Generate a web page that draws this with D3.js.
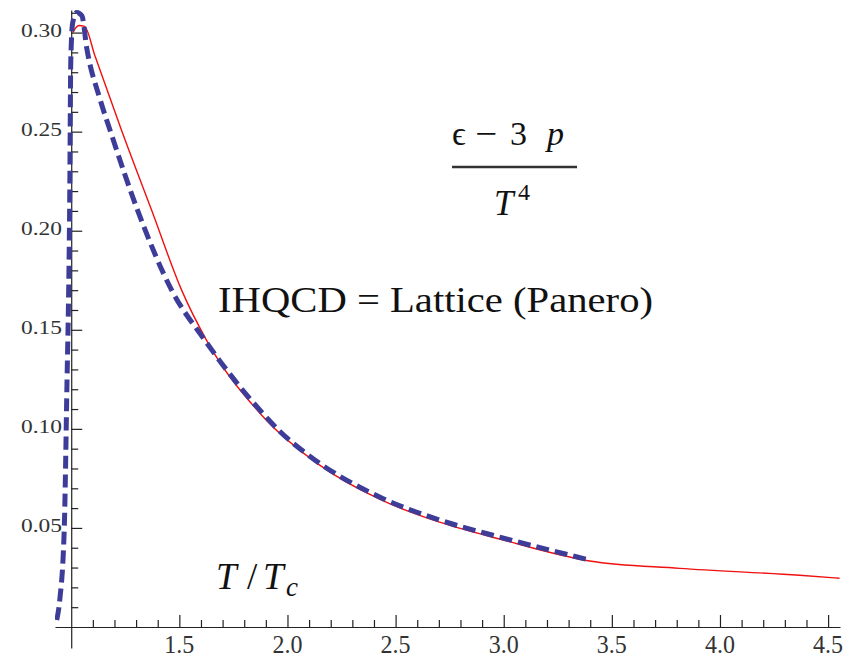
<!DOCTYPE html>
<html>
<head>
<meta charset="utf-8">
<script src="https://cdn.jsdelivr.net/npm/d3@7"></script>
<style>
  html, body { margin: 0; padding: 0; background: #fff; }
  svg { display: block; }
  text { font-family: "Liberation Serif", "Times New Roman", Times, serif; }
</style>
</head>
<body>
<svg id="chart" width="855" height="660"></svg>
<script>
// Trace anomaly (e - 3p)/T^4 versus T/Tc
const xMajorTicks = [1.5, 2.0, 2.5, 3.0, 3.5, 4.0, 4.5];
const xMajorLabels = ["1.5", "2.0", "2.5", "3.0", "3.5", "4.0", "4.5"];
const yMajorTicks = [0.05, 0.10, 0.15, 0.20, 0.25, 0.30];
const yMajorLabels = ["0.05", "0.10", "0.15", "0.20", "0.25", "0.30"];

// IHQCD model curve (dashed)
const ihqcdT = [0.933, 0.947, 0.968, 0.979, 0.993, 0.998, 1.007, 1.025, 1.049, 1.072,
                1.132, 1.183, 1.307, 1.465, 1.618, 1.885, 1.964, 2.103, 2.426, 2.703,
                2.981, 3.397];
const ihqcdValue = [0.0035, 0.0136, 0.0504, 0.1145, 0.2153, 0.2859, 0.3051, 0.3101, 0.3086, 0.2920,
                    0.2668, 0.2496, 0.2103, 0.1699, 0.1447, 0.1079, 0.0988, 0.0862, 0.0656, 0.0540,
                    0.0454, 0.0338];

// Lattice fit (Panero), solid
const latticeT = [1.007, 1.035, 1.062, 1.109, 1.233, 1.372, 1.511, 1.626, 1.881, 2.149,
                  2.426, 2.703, 2.981, 3.397, 3.813, 4.368, 4.553];
const latticeValue = [0.3000, 0.3036, 0.3031, 0.2885, 0.2506, 0.2103, 0.1699, 0.1447, 0.1069, 0.0817,
                      0.0645, 0.0529, 0.0444, 0.0333, 0.0296, 0.0261, 0.0246];

const svg = d3.select("#chart");

const x = d3.scaleLinear().domain([0.925, 4.555]).range([55, 840]);
const y = d3.scaleLinear().domain([-0.0106, 0.3114]).range([648, 10]);

const xMinor = d3.range(11, 46).map(d => d / 10).filter(v => !xMajorTicks.some(m => Math.abs(m - v) < 1e-9));
const yMinor = d3.range(1, 32).map(d => d / 100).filter(v => !yMajorTicks.some(m => Math.abs(m - v) < 1e-9));

const axisColor = "#222";

// x axis through y = 0, ticks pointing up
svg.append("g").attr("transform", `translate(0,${y(0)})`)
  .call(d3.axisBottom(x).tickValues(xMajorTicks).tickSizeInner(-12).tickSizeOuter(0).tickFormat(""));
svg.append("g").attr("transform", `translate(0,${y(0)})`)
  .call(d3.axisBottom(x).tickValues(xMinor).tickSizeInner(-7).tickSizeOuter(0).tickFormat(""))
  .call(g => g.select(".domain").remove());

// y axis through T/Tc = 1, ticks pointing right
svg.append("g").attr("transform", `translate(${x(1)},0)`)
  .call(d3.axisLeft(y).tickValues(yMajorTicks).tickSizeInner(-11).tickSizeOuter(0).tickFormat(""));
svg.append("g").attr("transform", `translate(${x(1)},0)`)
  .call(d3.axisLeft(y).tickValues(yMinor).tickSizeInner(-7).tickSizeOuter(0).tickFormat(""))
  .call(g => g.select(".domain").remove());

svg.selectAll(".domain, .tick line").attr("stroke", axisColor).attr("stroke-width", 1.2);

// tick labels
svg.append("g").selectAll("text").data(xMajorTicks).join("text")
  .attr("x", d => x(d)).attr("y", 653)
  .attr("text-anchor", "middle")
  .attr("font-size", 25)
  .attr("fill", "#333")
  .attr("textLength", 30).attr("lengthAdjust", "spacingAndGlyphs")
  .text((d, i) => xMajorLabels[i]);

svg.append("g").selectAll("text").data(yMajorTicks).join("text")
  .attr("x", 62).attr("y", d => y(d) + 4)
  .attr("text-anchor", "end")
  .attr("font-size", 19)
  .attr("fill", "#333")
  .attr("textLength", 41).attr("lengthAdjust", "spacingAndGlyphs")
  .text((d, i) => yMajorLabels[i]);

// curves
svg.append("clipPath").attr("id", "plotArea")
  .append("rect").attr("x", 55).attr("y", 10).attr("width", 790).attr("height", 638);

const line = d3.line().x(d => x(d[0])).y(d => y(d[1])).curve(d3.curveMonotoneX);

const plot = svg.append("g").attr("clip-path", "url(#plotArea)");

plot.append("path")
  .datum(latticeT.map((t, i) => [t, latticeValue[i]]))
  .attr("d", line)
  .attr("fill", "none")
  .attr("stroke", "#f01010")
  .attr("stroke-width", 1.4);

plot.append("path")
  .datum(ihqcdT.map((t, i) => [t, ihqcdValue[i]]))
  .attr("d", line)
  .attr("fill", "none")
  .attr("stroke", "#3d3d99")
  .attr("stroke-width", 5)
  .attr("stroke-dasharray", "13,6");

// annotations: (epsilon - 3 p) / T^4
const frac = svg.append("g").attr("fill", "#111").attr("font-size", 34);
frac.append("text").attr("x", 452).attr("y", 145).text("\u03F5");
frac.append("text").attr("x", 475).attr("y", 145).attr("textLength", 22)
  .attr("lengthAdjust", "spacingAndGlyphs").text("\u2212");
frac.append("text").attr("x", 510).attr("y", 145).text("3");
frac.append("text").attr("x", 547).attr("y", 145).attr("font-style", "italic").text("p");

frac.append("line").attr("x1", 452).attr("x2", 577).attr("y1", 167).attr("y2", 167)
  .attr("stroke", "#333").attr("stroke-width", 2.5);

frac.append("text").attr("x", 494).attr("y", 215).attr("font-style", "italic")
  .attr("font-size", 35).text("T");
frac.append("text").attr("x", 518).attr("y", 200).attr("font-size", 24).text("4");

svg.append("text").attr("x", 218).attr("y", 312)
  .attr("font-size", 36).attr("fill", "#111")
  .attr("textLength", 435).attr("lengthAdjust", "spacingAndGlyphs")
  .text("IHQCD  =  Lattice (Panero)");

// axis caption T / Tc
const cap = svg.append("g").attr("fill", "#111").attr("font-size", 37);
cap.append("text").attr("x", 216).attr("y", 589).attr("font-style", "italic").text("T");
cap.append("text").attr("x", 247).attr("y", 589).text("/");
cap.append("text").attr("x", 263).attr("y", 589).attr("font-style", "italic").text("T");
cap.append("text").attr("x", 286).attr("y", 596).attr("font-style", "italic").attr("font-size", 27).text("c");
</script>
</body>
</html>
